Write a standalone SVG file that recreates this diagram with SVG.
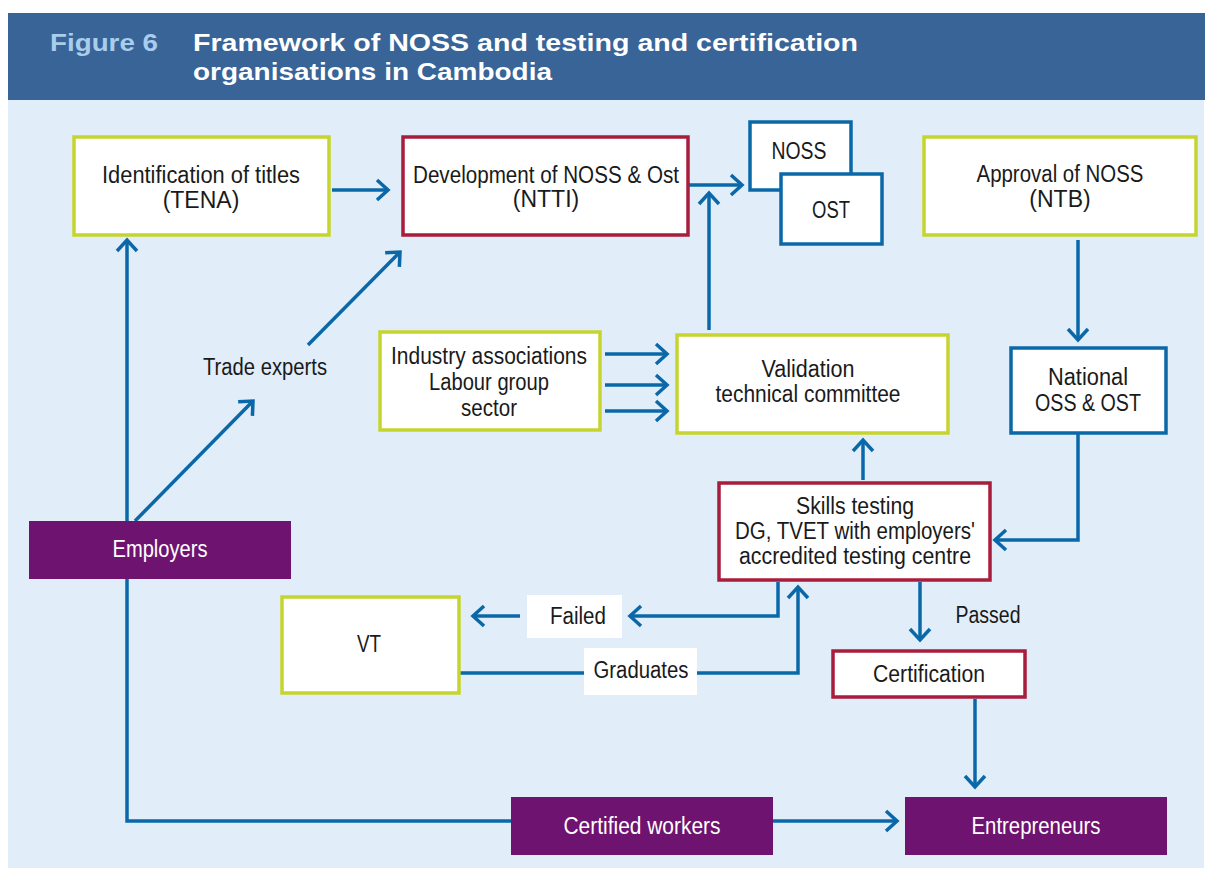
<svg xmlns="http://www.w3.org/2000/svg" width="1205" height="870" viewBox="0 0 1205 870">
<defs>
<style>
.t{font-family:"Liberation Sans",Arial,sans-serif;font-size:23px;fill:#1a1a1a;text-anchor:middle}
.w{fill:#ffffff}
.h{font-family:"Liberation Sans",Arial,sans-serif;font-size:24px;font-weight:bold;fill:#ffffff}
.g{fill:#ffffff;stroke:#c6d52e;stroke-width:3.5}
.r{fill:#ffffff;stroke:#a81c3c;stroke-width:3.5}
.b{fill:#ffffff;stroke:#0a68a8;stroke-width:3.5}
.p{fill:#6e136f}
.c{fill:none;stroke:#0a68a8;stroke-width:3.5;marker-end:url(#a)}
.n{fill:none;stroke:#0a68a8;stroke-width:3.5}
</style>
<marker id="a" viewBox="0 0 16 24" refX="13" refY="12" markerWidth="16" markerHeight="24" markerUnits="userSpaceOnUse" orient="auto">
<path d="M2,2 L13,12 L2,22" fill="none" stroke="#0a68a8" stroke-width="3.5"/>
</marker>
</defs>
<rect x="0" y="0" width="1205" height="870" fill="#ffffff"/>
<rect x="8" y="100" width="1196" height="768" fill="#e1edf9"/>
<g id="header">
<rect x="8" y="13" width="1197" height="87" fill="#386497"/>
<text class="h" x="50" y="51" textLength="108" lengthAdjust="spacingAndGlyphs" style="fill:#a9cdec">Figure 6</text>
<text class="h" x="193" y="51" textLength="665" lengthAdjust="spacingAndGlyphs">Framework of NOSS and testing and certification</text>
<text class="h" x="193" y="80" textLength="359" lengthAdjust="spacingAndGlyphs">organisations in Cambodia</text>
</g>
<g id="connectors">
<path class="c" d="M332,190 H388"/>
<path class="c" d="M511,821 H127 V240"/>
<path class="c" d="M135,521 L253,401"/>
<path class="c" d="M308,345 L400,252"/>
<path class="c" d="M688,185 H742"/>
<path class="c" d="M709,330 V193"/>
<path class="c" d="M605,354 H667"/>
<path class="c" d="M605,385 H667"/>
<path class="c" d="M605,411 H667"/>
<path class="c" d="M1078,240 V340"/>
<path class="c" d="M1078,433 V540 H995"/>
<path class="c" d="M863,480 V440"/>
<path class="c" d="M778,582 V616 H630"/>
<path class="c" d="M520,616 H473"/>
<path class="c" d="M459,673 H798 V587"/>
<path class="c" d="M920,582 V640"/>
<path class="c" d="M975,699 V787"/>
<path class="c" d="M772,821 H897"/>
</g>
<g id="tena">
<rect class="g" x="74" y="137" width="255" height="98"/>
<text class="t" x="201" y="183" textLength="198" lengthAdjust="spacingAndGlyphs">Identification of titles</text>
<text class="t" x="201" y="208">(TENA)</text>
</g>
<g id="ntti">
<rect class="r" x="403" y="137" width="285" height="98"/>
<text class="t" x="546" y="183" textLength="266" lengthAdjust="spacingAndGlyphs">Development of NOSS &amp; Ost</text>
<text class="t" x="546" y="207">(NTTI)</text>
</g>
<g id="noss">
<rect class="b" x="750" y="122" width="101" height="68"/>
<text class="t" x="799" y="159" textLength="55" lengthAdjust="spacingAndGlyphs">NOSS</text>
</g>
<g id="ost">
<rect class="b" x="781" y="174" width="101" height="70"/>
<text class="t" x="831" y="218" textLength="38" lengthAdjust="spacingAndGlyphs">OST</text>
</g>
<g id="ntb">
<rect class="g" x="924" y="137" width="272" height="98"/>
<text class="t" x="1060" y="182" textLength="167" lengthAdjust="spacingAndGlyphs">Approval of NOSS</text>
<text class="t" x="1060" y="207">(NTB)</text>
</g>
<g id="trade-experts">
<text class="t" x="265" y="375" textLength="124" lengthAdjust="spacingAndGlyphs">Trade experts</text>
</g>
<g id="industry">
<rect class="g" x="380" y="332" width="220" height="98"/>
<text class="t" x="489" y="364" textLength="196" lengthAdjust="spacingAndGlyphs">Industry associations</text>
<text class="t" x="489" y="390" textLength="120" lengthAdjust="spacingAndGlyphs">Labour group</text>
<text class="t" x="489" y="416" textLength="56" lengthAdjust="spacingAndGlyphs">sector</text>
</g>
<g id="validation">
<rect class="g" x="677" y="335" width="271" height="98"/>
<text class="t" x="808" y="377" textLength="93" lengthAdjust="spacingAndGlyphs">Validation</text>
<text class="t" x="808" y="402" textLength="185" lengthAdjust="spacingAndGlyphs">technical committee</text>
</g>
<g id="national">
<rect class="b" x="1011" y="348" width="155" height="85"/>
<text class="t" x="1088" y="385" textLength="80" lengthAdjust="spacingAndGlyphs">National</text>
<text class="t" x="1088" y="411" textLength="106" lengthAdjust="spacingAndGlyphs">OSS &amp; OST</text>
</g>
<g id="employers">
<rect class="p" x="29" y="521" width="262" height="58"/>
<text class="t w" x="160" y="557" textLength="95" lengthAdjust="spacingAndGlyphs">Employers</text>
</g>
<g id="skills-testing">
<rect class="r" x="719" y="483" width="271" height="97"/>
<text class="t" x="855" y="514" textLength="118" lengthAdjust="spacingAndGlyphs">Skills testing</text>
<text class="t" x="855" y="539" textLength="240" lengthAdjust="spacingAndGlyphs">DG, TVET with employers'</text>
<text class="t" x="855" y="564" textLength="232" lengthAdjust="spacingAndGlyphs">accredited testing centre</text>
</g>
<g id="failed">
<rect x="527" y="595" width="95" height="43" fill="#ffffff"/>
<text class="t" x="578" y="624" textLength="56" lengthAdjust="spacingAndGlyphs">Failed</text>
</g>
<g id="passed">
<text class="t" x="988" y="623" textLength="65" lengthAdjust="spacingAndGlyphs">Passed</text>
</g>
<g id="vt">
<rect class="g" x="282" y="597" width="177" height="96"/>
<text class="t" x="369" y="652" textLength="24" lengthAdjust="spacingAndGlyphs">VT</text>
</g>
<g id="graduates">
<rect x="584" y="648" width="113" height="47" fill="#ffffff"/>
<text class="t" x="641" y="678" textLength="95" lengthAdjust="spacingAndGlyphs">Graduates</text>
</g>
<g id="certification">
<rect class="r" x="833" y="651" width="192" height="46"/>
<text class="t" x="929" y="682" textLength="112" lengthAdjust="spacingAndGlyphs">Certification</text>
</g>
<g id="certified-workers">
<rect class="p" x="511" y="797" width="262" height="58"/>
<text class="t w" x="642" y="834" textLength="157" lengthAdjust="spacingAndGlyphs">Certified workers</text>
</g>
<g id="entrepreneurs">
<rect class="p" x="905" y="797" width="262" height="58"/>
<text class="t w" x="1036" y="834" textLength="129" lengthAdjust="spacingAndGlyphs">Entrepreneurs</text>
</g>
</svg>
